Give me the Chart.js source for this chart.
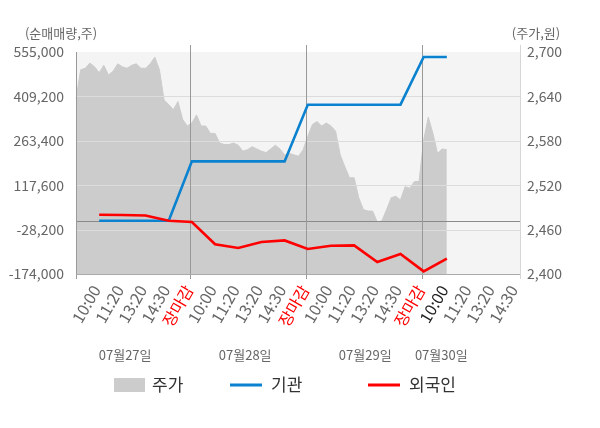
<!DOCTYPE html>
<html><head><meta charset="utf-8">
<script src="https://cdn.jsdelivr.net/npm/chart.js@4.4.0/dist/chart.umd.min.js"></script>
<style>html,body{margin:0;padding:0;background:#fff;}</style>
</head><body>
<canvas id="c" width="600" height="428"></canvas>
<script>
// ---- data ----
const sessionLabels = ['10:00','11:20','13:20','14:30','장마감'];
const dates = ['07월27일','07월28일','07월29일','07월30일'];
const dateLabelSlots = [10.6, 36.5, 62.4, 78.8];
const leftTicks = [-174000,-28200,117600,263400,409200,555000];
const rightTicks = [2400,2460,2520,2580,2640,2700];
// net buying at each session checkpoint (10:00 d1 ... 10:00 d4)
const foreign = [20700,19700,18100,1000,-3200,-76100,-88600,-68900,-63700,-91900,-81100,-80100,-134600,-108300,-165500,-123800];
const institution = [1000,1000,1000,1000,195800,195800,195800,195800,195800,382000,382000,382000,382000,382000,538600,538600];
// intraday price (one value per fine slot, 5 slots per checkpoint interval)
const price = [2636,2676,2678,2685,2680,2672,2682,2669,2674,2684,2680,2678,2682,2684,2678,2678,2684,2693,2676,2635,
 2629,2622,2633,2609,2600,2604,2615,2600,2600,2590,2590,2577,2575,2575,2577,2574,2566,2568,2572,2569,
 2566,2564,2569,2574,2569,2561,2563,2561,2559,2568,2586,2602,2606,2600,2604,2600,2593,2561,2545,2530,
 2530,2503,2487,2485,2485,2470,2472,2487,2503,2505,2500,2518,2516,2525,2525,2581,2612,2590,2563,2569,2568];

// ---- build category slots ----
const SLOTS_PER = 5;
const TOTAL_SLOTS = 97;
const labels = [];
for (let s = 0; s < TOTAL_SLOTS; s++) {
  labels.push(s > 0 && s % SLOTS_PER === 0 && s <= 95 ? sessionLabels[(s / SLOTS_PER - 1) % sessionLabels.length] : '');
}
const currentSlot = SLOTS_PER * foreign.length; // latest checkpoint
function toSlots(arr) {
  const out = new Array(TOTAL_SLOTS).fill(null);
  arr.forEach((v, j) => { out[SLOTS_PER * (j + 1)] = v; });
  return out;
}

const FONT = "'Noto Sans CJK KR', 'Noto Sans', sans-serif";
Chart.defaults.font.family = FONT;

function hline(ctx, x1, y, x2) { ctx.beginPath(); ctx.moveTo(x1, y); ctx.lineTo(x2, y); ctx.stroke(); }
function vline(ctx, x, y1, y2) { ctx.beginPath(); ctx.moveTo(x, y1); ctx.lineTo(x, y2); ctx.stroke(); }

const decor = {
  id: 'decor',
  beforeDatasetsDraw(chart) {
    const {ctx, chartArea: a} = chart;
    ctx.save();
    ctx.fillStyle = '#f4f4f4';
    ctx.fillRect(a.left, a.top, a.right - a.left, a.bottom - a.top);
    ctx.restore();
  },
  afterDatasetDraw(chart, args) {
    if (args.index !== 0) return;
    const {ctx, chartArea: a, scales} = chart;
    const yL = scales.y, x = scales.x;
    ctx.save();
    ctx.lineWidth = 1;
    ctx.strokeStyle = '#dcdcdc';
    leftTicks.slice(1, -1).forEach(v => {
      const py = Math.round(yL.getPixelForValue(v)) + 0.5;
      hline(ctx, a.left, py, a.right);
    });
    ctx.strokeStyle = '#8a8a8a';
    const zy = Math.round(yL.getPixelForValue(0)) + 0.5;
    hline(ctx, a.left, zy, a.right);
    ctx.strokeStyle = '#999999';
    labels.forEach((l, s) => {
      if (l === '장마감') {
        const px = Math.floor(x.getPixelForValue(s)) - 0.5;
        vline(ctx, px, a.top - 7, a.bottom + 5);
      }
    });
    vline(ctx, Math.round(a.left) + 0.5, a.top, a.bottom + 5);
    ctx.strokeStyle = '#aaaaaa';
    hline(ctx, a.left, Math.round(a.bottom) + 0.5, a.right);
    ctx.strokeStyle = '#d6d6d6';
    vline(ctx, Math.round(a.right) - 0.5, a.top - 7, a.bottom + 5);
    ctx.restore();
  },
  afterDraw(chart) {
    const {ctx, scales} = chart;
    const x = scales.x;
    ctx.save();
    ctx.fillStyle = '#666';
    ctx.font = '13px ' + FONT;
    ctx.textBaseline = 'middle';
    ctx.textAlign = 'center';
    ctx.fillText('(순매매량,주)', 61, 33);
    ctx.fillText('(주가,원)', 536, 33);
    dates.forEach((d, i) => ctx.fillText(d, x.getPixelForValue(dateLabelSlots[i]), 355));
    // legend
    ctx.font = '17px ' + FONT;
    ctx.fillStyle = '#cccccc';
    ctx.fillRect(114, 378, 31, 14);
    ctx.lineWidth = 3;
    ctx.strokeStyle = '#0a82cf';
    hline(ctx, 230, 385, 262);
    ctx.strokeStyle = '#ff0000';
    hline(ctx, 368, 385, 400);
    ctx.fillStyle = '#333';
    ctx.textAlign = 'left';
    ctx.fillText('주가', 152, 385);
    ctx.fillText('기관', 271, 385);
    ctx.fillText('외국인', 409, 385);
    ctx.restore();
  }
};

new Chart(document.getElementById('c'), {
  type: 'line',
  data: {
    labels: labels,
    datasets: [
      { label: '주가', data: price, yAxisID: 'y2', fill: 'start', backgroundColor: '#cccccc',
        borderColor: '#cccccc', borderWidth: 1, pointRadius: 0, tension: 0, order: 3 },
      { label: '기관', data: toSlots(institution), yAxisID: 'y', borderColor: '#0a82cf', borderWidth: 2.6,
        pointRadius: 0, spanGaps: true, tension: 0, fill: false, order: 2 },
      { label: '외국인', data: toSlots(foreign), yAxisID: 'y', borderColor: '#ff0000', borderWidth: 2.6,
        pointRadius: 0, spanGaps: true, tension: 0, fill: false, order: 1 }
    ]
  },
  options: {
    responsive: false,
    animation: false,
    layout: { padding: { top: 52, left: 0, right: 0, bottom: 0 } },
    plugins: { legend: { display: false }, tooltip: { enabled: false } },
    scales: {
      x: {
        type: 'category',
        offset: false,
        grid: { display: false, drawTicks: false },
        border: { display: false },
        ticks: {
          autoSkip: false, minRotation: 60, maxRotation: 60, padding: 8, labelOffset: -3,
          font: { size: 16 },
          color: (c) => {
            const l = labels[c.index];
            if (l === '장마감') return '#ff0000';
            if (c.index === currentSlot) return '#222222';
            return '#666666';
          }
        },
        afterFit: (s) => { s.height = 154; }
      },
      y: {
        position: 'left',
        min: leftTicks[0], max: leftTicks[leftTicks.length - 1],
        grid: { display: false, drawTicks: false },
        border: { display: false },
        afterBuildTicks: (s) => { s.ticks = leftTicks.map(v => ({ value: v })); },
        ticks: { color: '#666', font: { size: 14 }, padding: 12,
          callback: (v) => Number(v).toLocaleString('en-US') },
        afterFit: (s) => { s.width = 76; }
      },
      y2: {
        position: 'right',
        min: rightTicks[0], max: rightTicks[rightTicks.length - 1],
        grid: { display: false, drawTicks: false },
        border: { display: false },
        afterBuildTicks: (s) => { s.ticks = rightTicks.map(v => ({ value: v })); },
        ticks: { color: '#666', font: { size: 14 }, padding: 6,
          callback: (v) => Number(v).toLocaleString('en-US') },
        afterFit: (s) => { s.width = 79; }
      }
    }
  },
  plugins: [decor]
});
</script>
</body></html>
